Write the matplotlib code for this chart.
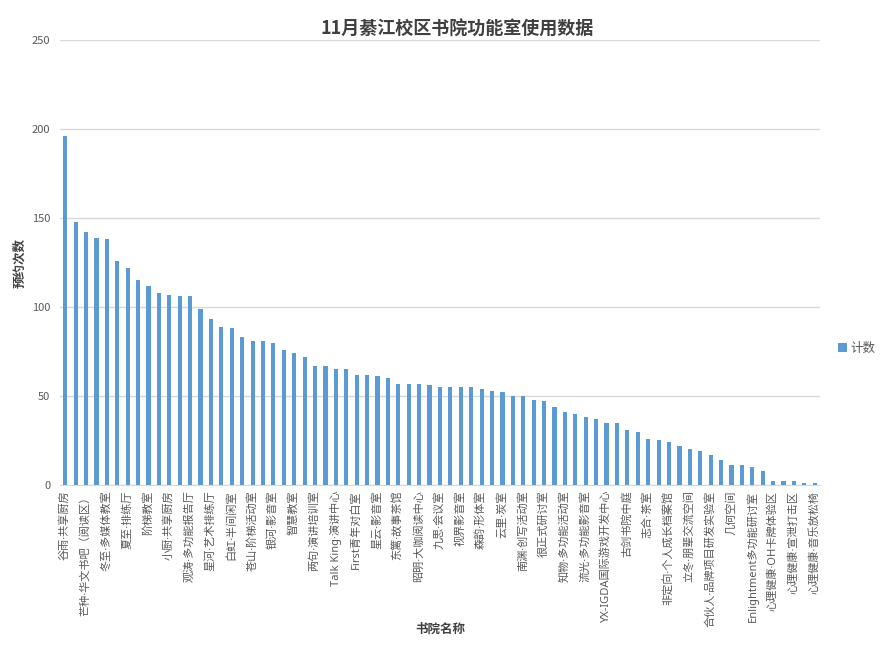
import matplotlib
matplotlib.use("Agg")
import matplotlib.pyplot as plt

plt.rcParams['font.family'] = ['Noto Sans CJK SC', 'DejaVu Sans']

# 预约次数 (73 rooms, sorted)
counts = [196, 148, 142, 139, 138, 126, 122, 115, 112, 108,
          107, 106, 106, 99, 93, 89, 88, 83, 81, 81,
          80, 76, 74, 72, 67, 67, 65, 65, 62, 62,
          61, 60, 57, 57, 57, 56, 55, 55, 55, 55,
          54, 53, 52, 50, 50, 48, 47, 44, 41, 40,
          38, 37, 35, 35, 31, 30, 26, 25, 24, 22,
          20, 19, 17, 14, 11, 11, 10, 8, 2, 2,
          2, 1, 1]

# only every other name is shown on the axis
names = ['谷雨·共享厨房', '芒种·华文书吧（阅读区）', '冬至·多媒体教室', '夏至·排练厅',
         '阶梯教室', '小厨·共享厨房', '观涛·多功能报告厅', '星河·艺术排练厅',
         '白虹·半间闲室', '苍山·阶梯活动室', '银河·影音室', '智慧教室',
         '两句·演讲培训室', 'Talk King·演讲中心', 'First青年对白室', '星云·影音室',
         '东篱·故事茶馆', '昭明·大咖阅读中心', '九思·会议室', '视界影音室',
         '森韵·形体室', '云里·炭室', '南渊·创写活动室', '很正式研讨室',
         '知物·多功能活动室', '流光·多功能影音室', 'YX-IGDA国际游戏开发中心', '古剑书院中庭',
         '志合·茶室', '非定向·个人成长档案馆', '立冬·朋辈交流空间', '合伙人·品牌项目研发实验室',
         '几何空间', 'Enlightment多功能研讨室', '心理健康·OH卡牌体验区', '心理健康·宣泄打击区',
         '心理健康·音乐放松椅']

fig = plt.figure(figsize=(8.86, 6.53), dpi=100)
ax = fig.add_axes([0.0677, 0.2573, 0.8578, 0.6814])

x = list(range(len(counts)))
ax.bar(x, counts, width=0.4, color='#5b9bd5', label='计数', zorder=3)

ax.set_xlim(-0.5, len(counts) - 0.5)
ax.set_ylim(0, 250)
ax.set_yticks([0, 50, 100, 150, 200, 250])
ax.grid(axis='y', color='#d9d9d9', linewidth=1, zorder=0)

ax.set_xticks(x[::2])
# Noto Sans first so the middle dot stays narrow
ax.set_xticklabels(names, rotation=90, fontsize=8, color='#595959',
                   family=['Noto Sans', 'Noto Sans CJK SC'])
ax.tick_params(axis='both', length=0, labelsize=8, colors='#595959')
ax.tick_params(axis='x', pad=4)
ax.tick_params(axis='y', pad=7)

for s in ['top', 'right', 'left']:
    ax.spines[s].set_visible(False)
ax.spines['bottom'].set_color('#d9d9d9')

ax.set_ylabel('预约次数', fontsize=9, fontweight='bold', color='#404040')
ax.yaxis.set_label_coords(-0.044, 0.5)
ax.set_xlabel('书院名称', fontsize=9, fontweight='bold', color='#404040')
ax.xaxis.set_label_coords(0.5, -0.31)
fig.suptitle('11月綦江校区书院功能室使用数据', x=0.516, y=0.97, fontsize=13,
             fontweight='bold', color='#404040')

leg = ax.legend(loc='center left', bbox_to_anchor=(0.94, 0.467), bbox_transform=fig.transFigure,
                frameon=False, fontsize=9, handlelength=0.7, handleheight=0.7,
                handletextpad=0.3, borderaxespad=0)
for t in leg.get_texts():
    t.set_color('#595959')

fig.savefig('out.png', dpi=100, facecolor='white')
